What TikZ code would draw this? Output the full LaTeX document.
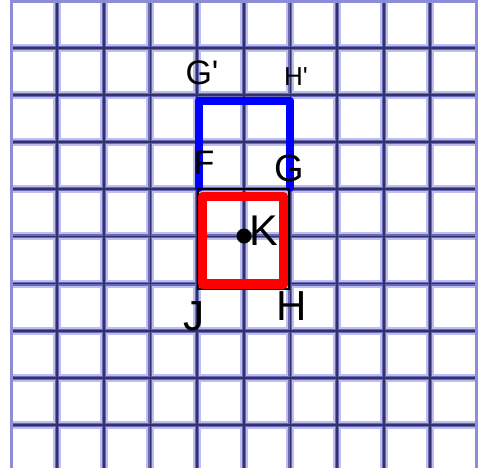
\documentclass[tikz,border=0pt]{standalone}
\usepackage{fontspec}
\setmainfont{Liberation Sans}
\begin{document}
\begin{tikzpicture}[x=1pt,y=-1pt,
  gridglow/.style={draw={rgb,255:red,190;green,190;blue,238},line width=8pt},
  gridmid/.style={draw={rgb,255:red,105;green,105;blue,185},line width=4pt},
  gridcore/.style={draw={rgb,255:red,50;green,50;blue,105},line width=1.8pt},
  gridedge/.style={draw={rgb,255:red,140;green,140;blue,215},line width=3.5pt},
  lbl/.style={inner sep=0pt,font=\fontsize{34}{34}\selectfont}]
\useasboundingbox (0,0) rectangle (478,468);
\fill[white] (0,0) rectangle (478,468);
% grid: glow layer
\foreach \k in {1,...,9}{
  \draw[gridglow] ({10.5+46.65*\k},0) -- ({10.5+46.65*\k},468);
}
\foreach \k in {1,...,9}{
  \draw[gridglow] (10.5,{0.9+47.1*\k}) -- (478,{0.9+47.1*\k});
}
\foreach \k in {1,...,9}{
  \draw[gridmid] ({10.5+46.65*\k},0) -- ({10.5+46.65*\k},468);
  \draw[gridmid] (10.5,{0.9+47.1*\k}) -- (478,{0.9+47.1*\k});
}
\foreach \k in {1,...,9}{
  \draw[gridcore] ({10.5+46.65*\k},0) -- ({10.5+46.65*\k},468);
  \draw[gridcore] (10.5,{0.9+47.1*\k}) -- (478,{0.9+47.1*\k});
}
% outer (lighter) lines
\draw[gridedge] (11.5,0) -- (11.5,468);
\draw[gridedge] (477,0) -- (477,468);
\draw[gridedge] (10.5,1.2) -- (478,1.2);
% shapes
\coordinate (F) at (199,188);
\coordinate (G) at (290,188);
\coordinate (Gp) at (199,101);
\coordinate (Hp) at (290,101);
\coordinate (J) at (198,289);
\coordinate (H) at (289,289);
\coordinate (Fr) at (198,189);
\coordinate (Gr) at (289,189);
\coordinate (r1) at (202.5,196.5);
\coordinate (r2) at (283.5,196.5);
\coordinate (r3) at (283.5,284);
\coordinate (r4) at (202.5,284);
\draw[blue,line width=8pt,line cap=round,line join=round] (F) -- (Gp) -- (Hp) -- (G);
\draw[black,line width=2pt] (Fr) -- (Gr) -- (H) -- (J) -- cycle;
\draw[red,line width=9.5pt,line join=round] (r1) -- (r2) -- (r3) -- (r4) -- cycle;
\node[circle,fill=black,inner sep=0pt,minimum size=15pt] (K) at (244,236) {};
\node[lbl,font=\fontsize{43}{43}\selectfont] (Klbl) at (264,231) {K};
\node[lbl] (Gplbl) at (202,73) {G\textquotesingle};
\node[lbl,font=\fontsize{26}{26}\selectfont] (Hplbl) at (296,77) {H\textquotesingle};
\node[lbl] (Flbl) at (204,163) {F};
\node[lbl,font=\fontsize{38}{38}\selectfont] (Glbl) at (289,168) {G};
\node[lbl,font=\fontsize{42}{42}\selectfont] (Jlbl) at (194,316) {J};
\node[lbl,font=\fontsize{42}{42}\selectfont] (Hlbl) at (292,306) {H};
\end{tikzpicture}
\end{document}
